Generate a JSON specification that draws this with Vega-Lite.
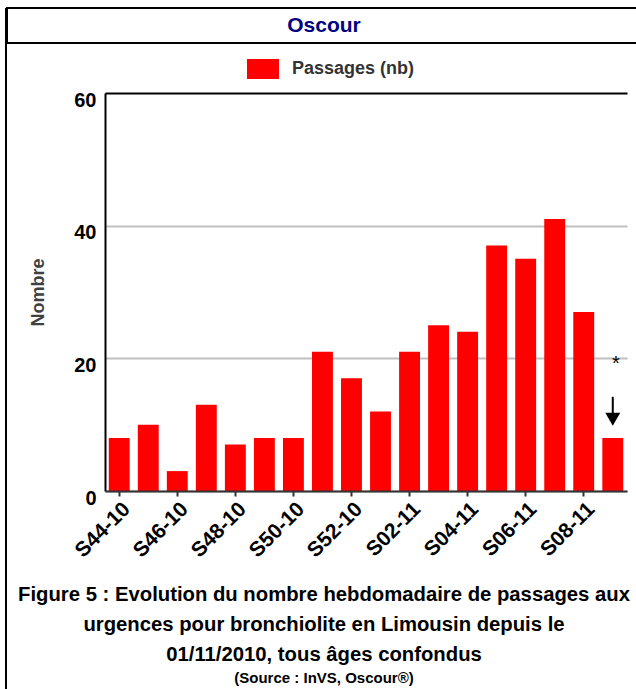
{
  "$schema": "https://vega.github.io/schema/vega-lite/v6.json",
  "padding": {"left": 5, "top": 7, "right": 0, "bottom": 0},
  "background": "white",
  "spacing": -2,
  "resolve": {"legend": {"color": "independent"}},
  "config": {
    "font": "Liberation Sans",
    "view": {"stroke": null}
  },
  "datasets": {
    "passages": [
      {"semaine": "S44-10", "passages": 8},
      {"semaine": "S45-10", "passages": 10},
      {"semaine": "S46-10", "passages": 3},
      {"semaine": "S47-10", "passages": 13},
      {"semaine": "S48-10", "passages": 7},
      {"semaine": "S49-10", "passages": 8},
      {"semaine": "S50-10", "passages": 8},
      {"semaine": "S51-10", "passages": 21},
      {"semaine": "S52-10", "passages": 17},
      {"semaine": "S01-11", "passages": 12},
      {"semaine": "S02-11", "passages": 21},
      {"semaine": "S03-11", "passages": 25},
      {"semaine": "S04-11", "passages": 24},
      {"semaine": "S05-11", "passages": 37},
      {"semaine": "S06-11", "passages": 35},
      {"semaine": "S07-11", "passages": 41},
      {"semaine": "S08-11", "passages": 27},
      {"semaine": "S09-11", "passages": 8}
    ],
    "titre": [{"texte": "Oscour"}],
    "annot": [
      {"type": "etoile", "semaine": "S09-11", "y": 20, "label": "*"},
      {"type": "fleche", "semaine": "S09-11", "y": 14.2, "y2": 11.6},
      {"type": "pointe", "semaine": "S09-11", "y": 10.8}
    ]
  },
  "hconcat": [
    {
      "width": 2,
      "height": 682,
      "view": {"fill": "black", "stroke": null},
      "data": {"values": [{}]},
      "mark": {"type": "text"},
      "encoding": {"text": {"value": ""}}
    },
    {
      "spacing": 0,
      "resolve": {"legend": {"color": "independent"}},
      "vconcat": [
        {
          "width": 632,
          "height": 35,
          "view": {"stroke": "black", "strokeWidth": 2},
          "data": {"name": "titre"},
          "mark": {"type": "text", "font": "Liberation Sans", "fontWeight": "bold", "fontSize": 21, "color": "#000080", "dx": 1, "baseline": "middle"},
          "encoding": {"text": {"field": "texte"}}
        },
        {
          "spacing": 10,
          "resolve": {"legend": {"color": "independent"}},
          "hconcat": [
            {
              "width": 1,
              "height": 1,
              "data": {"values": [{}]},
              "mark": {"type": "text"},
              "encoding": {"text": {"value": ""}}
            },
            {
              "width": 522,
              "height": 398,
              "title": {
                "text": ["Figure 5 : Evolution du nombre hebdomadaire de passages aux", "urgences pour bronchiolite en Limousin depuis le", "01/11/2010, tous âges confondus"],
                "subtitle": "(Source : InVS, Oscour®)",
                "orient": "bottom",
                "anchor": "middle",
                "frame": "group",
                "dx": -42,
                "font": "Liberation Sans",
                "fontSize": 20.3,
                "fontWeight": "bold",
                "color": "black",
                "lineHeight": 30,
                "subtitleFont": "Liberation Sans",
                "subtitleFontSize": 15,
                "subtitleFontWeight": "bold",
                "subtitleColor": "black",
                "subtitlePadding": 6,
                "offset": 24
              },
              "encoding": {
                "x": {
                  "field": "semaine",
                  "type": "ordinal",
                  "sort": null,
                  "scale": {
                    "domain": ["S44-10", "S45-10", "S46-10", "S47-10", "S48-10", "S49-10", "S50-10", "S51-10", "S52-10", "S01-11", "S02-11", "S03-11", "S04-11", "S05-11", "S06-11", "S07-11", "S08-11", "S09-11"],
                    "paddingInner": 0.28,
                    "paddingOuter": 0.13
                  },
                  "axis": {
                    "values": ["S44-10", "S46-10", "S48-10", "S50-10", "S52-10", "S02-11", "S04-11", "S06-11", "S08-11"],
                    "title": null,
                    "labelAngle": -45,
                    "labelAlign": "right",
                    "labelBaseline": "top",
                    "labelFontSize": 21,
                    "labelFontWeight": "bold",
                    "labelColor": "black",
                    "labelPadding": 2,
                    "tickSize": 5,
                    "tickWidth": 2,
                    "tickColor": "#333333",
                    "domainColor": "#333333",
                    "domainWidth": 2,
                    "grid": false,
                    "zindex": 1
                  }
                }
              },
              "layer": [
                {
                  "data": {"name": "passages"},
                  "mark": {"type": "bar", "color": "#ff0000"},
                  "encoding": {
                    "y": {
                      "field": "passages",
                      "type": "quantitative",
                      "scale": {"domain": [0, 60]},
                      "axis": {
                        "values": [0, 20, 40, 60],
                        "title": "Nombre",
                        "titleFontSize": 18,
                        "titleFontWeight": "bold",
                        "titleColor": "#404040",
                        "titlePadding": 26,
                        "labelFontSize": 20,
                        "labelFontWeight": "bold",
                        "labelColor": "black",
                        "labelPadding": 9,
                        "labelOffset": 7,
                        "ticks": false,
                        "domainColor": "black",
                        "domainWidth": 2,
                        "gridColor": {"condition": {"test": "datum.value === 60", "value": "black"}, "value": "#c0c0c0"},
                        "gridWidth": 2
                      }
                    },
                    "color": {
                      "datum": "Passages (nb)",
                      "scale": {"range": ["#ff0000"]},
                      "legend": {
                        "orient": "none",
                        "legendX": 133,
                        "legendY": -49,
                        "padding": 15,
                        "title": null,
                        "direction": "horizontal",
                        "symbolType": "M-1.6,-1H1.6V1H-1.6Z",
                        "symbolSize": 400,
                        "symbolStrokeWidth": 0,
                        "symbolOpacity": 1,
                        "labelFontSize": 18,
                        "labelFontWeight": "bold",
                        "labelColor": "#333333",
                        "labelOffset": 19
                      }
                    }
                  }
                },
                {
                  "data": {"name": "annot"},
                  "transform": [{"filter": "datum.type === 'etoile'"}],
                  "mark": {"type": "text", "fontSize": 20, "dy": 6, "dx": 3, "color": "black"},
                  "encoding": {
                    "y": {"field": "y", "type": "quantitative"},
                    "text": {"field": "label"}
                  }
                },
                {
                  "data": {"name": "annot"},
                  "transform": [{"filter": "datum.type === 'fleche'"}],
                  "mark": {"type": "rule", "strokeWidth": 2, "color": "black"},
                  "encoding": {
                    "y": {"field": "y", "type": "quantitative"},
                    "y2": {"field": "y2"}
                  }
                },
                {
                  "data": {"name": "annot"},
                  "transform": [{"filter": "datum.type === 'pointe'"}],
                  "mark": {"type": "point", "shape": "triangle-down", "filled": true, "color": "black", "size": 225, "opacity": 1},
                  "encoding": {
                    "y": {"field": "y", "type": "quantitative"}
                  }
                }
              ]
            }
          ]
        }
      ]
    }
  ]
}
